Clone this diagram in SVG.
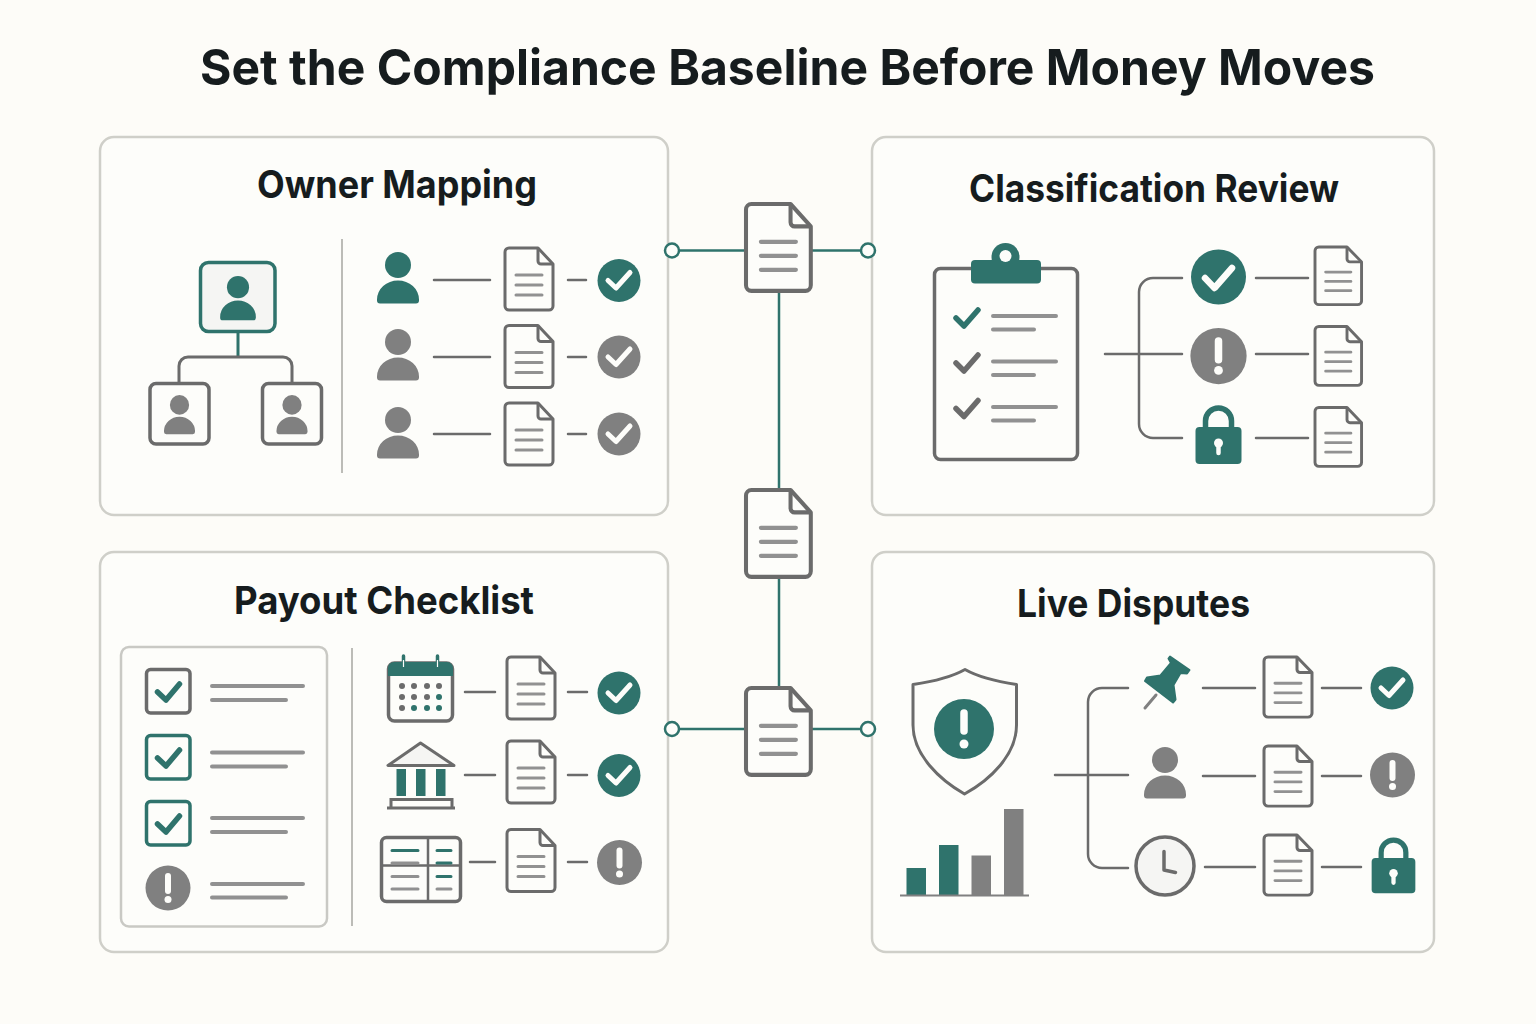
<svg xmlns="http://www.w3.org/2000/svg" xmlns:xlink="http://www.w3.org/1999/xlink" width="1536" height="1024" viewBox="0 0 1536 1024">
<style>
text{font-family:Inter,"Liberation Sans",sans-serif;font-weight:700;fill:#161c1e;text-anchor:start}
.title{font-size:50px}
.h{font-size:38px}
.panel{fill:#fdfdfa;stroke:#cfcfc9;stroke-width:2.5}
.c{fill:none;stroke:#6b6b6b;stroke-width:2.5;stroke-linecap:round}
.t{fill:none;stroke:#2f736c;stroke-width:2.5}
.ln{fill:none;stroke:#919191;stroke-width:4;stroke-linecap:round}
.box{fill:#fdfdfa;stroke:#6b6b6b;stroke-width:3.5}
.boxt{fill:#fdfdfa;stroke:#2f736c;stroke-width:3.5}
.tf{fill:#2f736c}
.gf{fill:#808080}
.wht{fill:none;stroke:#fdfdfa;stroke-width:5;stroke-linecap:round;stroke-linejoin:round}
.tick{fill:none;stroke-width:5.5;stroke-linecap:round;stroke-linejoin:round}
.sq{stroke:#2f736c}
.sg{stroke:#6b6b6b}
.dot{fill:#6b6b6b}
</style>
<defs>
<g id="doc">
<path d="M4 0H33L48 16V58a4 4 0 0 1-4 4H4a4 4 0 0 1-4-4V4a4 4 0 0 1 4-4Z" fill="#fdfdfa" stroke="#6b6b6b" stroke-width="3" stroke-linejoin="round"/>
<path d="M33 0V13a3 3 0 0 0 3 3H48" fill="none" stroke="#6b6b6b" stroke-width="3"/>
<path d="M11 27H37M11 37H37M11 47H37" fill="none" stroke="#919191" stroke-width="3" stroke-linecap="round"/>
</g>
<g id="person"><circle cx="0" cy="13" r="13"/><path d="M-21 47.500a21 19 0 0 1 42 0v1a3 3 0 0 1-3 3H-18a3 3 0 0 1-3-3Z"/></g>
<g id="ok"><circle r="21.500" class="tf"/><path d="M-11 0L-3 7.500L11-8" class="wht"/></g>
<g id="okg"><circle r="21.500" class="gf"/><path d="M-11 0L-3 7.500L11-8" class="wht"/></g>
<g id="warn"><circle r="22.500" class="gf"/><path d="M0-12V3" fill="none" stroke="#fdfdfa" stroke-width="6" stroke-linecap="round"/><circle cy="11.500" r="3.500" fill="#fdfdfa"/></g>
<g id="lock"><path d="M-13 0V-8a13 13 0 0 1 26 0V0" fill="none" stroke="#2f736c" stroke-width="5.500"/><rect x="-23" y="-2" width="46" height="37" rx="4" class="tf"/><circle cy="14" r="4.500" fill="#fdfdfa"/><path d="M0 14V24" stroke="#fdfdfa" stroke-width="4.500" stroke-linecap="round"/></g>
</defs>

<rect width="1536" height="1024" fill="#fdfcf8"/>
<text class="title" x="200" y="85" textLength="1175" lengthAdjust="spacingAndGlyphs">Set the Compliance Baseline Before Money Moves</text>

<g id="panels">
<rect class="panel" x="100" y="137" width="568" height="378" rx="14"/>
<rect class="panel" x="872" y="137" width="562" height="378" rx="14"/>
<rect class="panel" x="100" y="552" width="568" height="400" rx="14"/>
<rect class="panel" x="872" y="552" width="562" height="400" rx="14"/>
</g>

<g id="connectors">
<path class="t" d="M672 250.500H868M779 291V688M672 729H868"/>
<circle cx="672" cy="250.500" r="7" fill="#fdfdfa" stroke="#2f736c" stroke-width="2.500"/>
<circle cx="868" cy="250.500" r="7" fill="#fdfdfa" stroke="#2f736c" stroke-width="2.500"/>
<circle cx="672" cy="729" r="7" fill="#fdfdfa" stroke="#2f736c" stroke-width="2.500"/>
<circle cx="868" cy="729" r="7" fill="#fdfdfa" stroke="#2f736c" stroke-width="2.500"/>
<path d="M238 332V357" fill="none" stroke="#2f736c" stroke-width="3"/>
<path d="M179 383V366a9 9 0 0 1 9-9H283a9 9 0 0 1 9 9V383" fill="none" stroke="#6b6b6b" stroke-width="3"/>
<path class="c" d="M434 280H490M434 357H490M434 434H490M568 280H586M568 357H586M568 434H586"/>
<path class="c" d="M1105 354H1182M1182 278H1153a14 14 0 0 0-14 14V424a14 14 0 0 0 14 14H1182" stroke-width="3"/>
<path class="c" d="M1256 278H1308M1256 354H1308M1256 438H1308"/>
<path class="c" d="M465 692H495M465 775H495M470 862H495M568 692H587M568 775H587M568 862H587"/>
<path class="c" d="M1055 775H1128M1128 688H1102a14 14 0 0 0-14 14V854a14 14 0 0 0 14 14H1128" stroke-width="3"/>
<path class="c" d="M1203 688H1255M1203 776H1255M1205 867H1255M1322 688H1361M1322 776H1361M1322 867H1361"/>
</g>

<g id="doc-top"><use href="#doc" transform="translate(746 204) scale(1.35 1.40)"/></g>
<g id="doc-middle"><use href="#doc" transform="translate(746 490) scale(1.35 1.40)"/></g>
<g id="doc-bottom"><use href="#doc" transform="translate(746 688) scale(1.35 1.40)"/></g>

<g id="owner-mapping">
<text class="h" x="257" y="198" textLength="280" lengthAdjust="spacingAndGlyphs">Owner Mapping</text>
<rect x="200.500" y="262.500" width="74.500" height="69" rx="8" fill="#f5f5f3" stroke="#2f736c" stroke-width="3.500"/>
<use href="#person" class="tf" transform="translate(238 276) scale(.85 .86)"/>
<rect class="box" x="150" y="383.500" width="59" height="60.500" rx="6"/>
<use href="#person" class="gf" transform="translate(179.500 395) scale(.74 .76)"/>
<rect class="box" x="262.500" y="383.500" width="59" height="60.500" rx="6"/>
<use href="#person" class="gf" transform="translate(292 395) scale(.74 .76)"/>
<path d="M342 239V473" stroke="#bcbcb7" stroke-width="2"/>
<use href="#person" class="tf" transform="translate(398 252)"/>
<use href="#person" class="gf" transform="translate(398 329)"/>
<use href="#person" class="gf" transform="translate(398 407)"/>
<use href="#doc" transform="translate(505 248)"/>
<use href="#doc" transform="translate(505 325.500)"/>
<use href="#doc" transform="translate(505 403)"/>
<use href="#ok" transform="translate(619 280.500)"/>
<use href="#okg" transform="translate(619 357)"/>
<use href="#okg" transform="translate(619 434)"/>
</g>

<g id="classification-review">
<text class="h" x="969" y="202" textLength="370" lengthAdjust="spacingAndGlyphs">Classification Review</text>
<rect class="box" x="934.500" y="268.500" width="143" height="191" rx="6"/>
<circle cx="1005.500" cy="257" r="14" class="tf"/>
<rect x="971" y="260" width="70" height="23.500" rx="4" class="tf"/>
<circle cx="1005.500" cy="256" r="6" fill="#fdfdfa"/>
<path class="tick sq" d="M956 318L964 326L978 310"/>
<path class="tick sg" d="M956 363L964 371L978 355"/>
<path class="tick sg" d="M956 408.500L964 416.500L978 400.500"/>
<path class="ln" d="M993 316H1056M993 329.500H1034M993 361.500H1056M993 375H1034M993 407H1056M993 420.500H1034"/>
<circle cx="1218.500" cy="277" r="27.500" class="tf"/>
<path d="M1205 278L1214.500 288L1232 268" fill="none" stroke="#fdfdfa" stroke-width="6.500" stroke-linecap="round" stroke-linejoin="round"/>
<use href="#warn" transform="translate(1218.500 356) scale(1.25)"/>
<use href="#lock" transform="translate(1218.500 429) scale(1 1)"/>
<use href="#doc" transform="translate(1315 247) scale(.97 .93)"/>
<use href="#doc" transform="translate(1315 326.500) scale(.97 .95)"/>
<use href="#doc" transform="translate(1315 407.500) scale(.97 .95)"/>
</g>

<g id="payout-checklist">
<text class="h" x="234" y="614" textLength="300" lengthAdjust="spacingAndGlyphs">Payout Checklist</text>
<rect x="121" y="647" width="206" height="279.500" rx="8" fill="#fdfdfa" stroke="#c9c9c4" stroke-width="2.500"/>
<rect class="box" x="146.500" y="669.500" width="43.500" height="43.500" rx="4" stroke-width="3"/>
<rect class="boxt" x="146.500" y="735.500" width="43.500" height="43.500" rx="4" stroke-width="3"/>
<rect class="boxt" x="146.500" y="801.500" width="43.500" height="43.500" rx="4" stroke-width="3"/>
<path class="tick sq" d="M157.500 692L166 700L179.500 684"/>
<path class="tick sq" d="M157.500 758L166 766L179.500 750"/>
<path class="tick sq" d="M157.500 824L166 832L179.500 816"/>
<use href="#warn" transform="translate(168 888)"/>
<path class="ln" d="M212 686H303M212 700H286M212 752.500H303M212 766.500H286M212 818H303M212 832H286M212 884H303M212 897.500H286"/>
<path d="M352 648V926" stroke="#bcbcb7" stroke-width="2"/>
<rect class="box" x="388.500" y="663" width="64" height="58" rx="6"/>
<path class="tf" d="M388 676V668a6 6 0 0 1 6-6H447a6 6 0 0 1 6 6V676Z"/>
<path d="M403.500 656V669M437.500 656V669" stroke="#2f736c" stroke-width="3.500" stroke-linecap="round"/>
<path d="M403.500 660V667M437.500 660V667" stroke="#fdfdfa" stroke-width="1.200"/>
<g class="dot">
<circle cx="402" cy="686" r="3"/><circle cx="414" cy="686" r="3"/><circle cx="427" cy="686" r="3"/><circle cx="439" cy="686" r="3"/>
<circle cx="402" cy="697" r="3"/><circle cx="414" cy="697" r="3"/><circle cx="427" cy="697" r="3"/><circle cx="439" cy="697" r="3" class="tf"/>
<circle cx="402" cy="708" r="3"/><circle cx="414" cy="708" r="3" class="tf"/><circle cx="427" cy="708" r="3" class="tf"/><circle cx="439" cy="708" r="3" class="tf"/>
</g>
<path d="M420.500 743L388 765.500H454Z" fill="#f5f5f3" stroke="#6b6b6b" stroke-width="3" stroke-linejoin="round"/>
<rect x="396.500" y="769" width="9.500" height="27" class="tf"/>
<rect x="416" y="769" width="9.500" height="27" class="tf"/>
<rect x="436" y="769" width="9.500" height="27" class="tf"/>
<path d="M391 807V799.500H452V807M387 808H455" fill="none" stroke="#6b6b6b" stroke-width="3"/>
<rect class="box" x="381.500" y="837.500" width="79" height="64" rx="5"/>
<path d="M428 838V901M382 865.500H460" stroke="#6b6b6b" stroke-width="2.500"/>
<path d="M392 850.500H418M437 850.500H451M437 863H451M437 876.500H451" stroke="#2f736c" stroke-width="3" stroke-linecap="round"/>
<path d="M392 863H418M392 876.500H418M392 889H418M437 889H451" stroke="#919191" stroke-width="3" stroke-linecap="round"/>
<use href="#doc" transform="translate(507 657)"/>
<use href="#doc" transform="translate(507 741)"/>
<use href="#doc" transform="translate(507 829.500)"/>
<use href="#ok" transform="translate(619 693)"/>
<use href="#ok" transform="translate(619 775.500)"/>
<use href="#warn" transform="translate(619.500 862.500)"/>
</g>

<g id="live-disputes">
<text class="h" x="1017" y="617" textLength="233" lengthAdjust="spacingAndGlyphs">Live Disputes</text>
<path d="M965 669.500C950 678 930 682 913 684.500V725C913 755 940 780 964.500 794C990 780 1016.500 755 1016.500 725V684.500C1000 682 980 678 965 669.500Z" fill="#fdfdfa" stroke="#6b6b6b" stroke-width="3" stroke-linejoin="round"/>
<circle cx="964" cy="729" r="30" class="tf"/>
<path d="M964 713V731" fill="none" stroke="#fdfdfa" stroke-width="7.500" stroke-linecap="round"/>
<circle cx="964" cy="744" r="4.500" fill="#fdfdfa"/>
<rect x="906.500" y="868" width="19.500" height="27" class="tf"/>
<rect x="939" y="845" width="19.500" height="50" class="tf"/>
<rect x="971.500" y="855.500" width="19.500" height="39.500" class="gf"/>
<rect x="1004" y="809" width="19.500" height="86" class="gf"/>
<path d="M900 895.500H1029" stroke="#808080" stroke-width="1.800"/>
<path d="M1170 656.500L1189.500 670L1187 673.500L1180.500 673L1173.500 685L1175.500 699.500L1173 702.500L1145 681L1147 677.500L1160.500 675.500L1171 663L1168.500 658.500Z" class="tf" stroke="#2f736c" stroke-width="2" stroke-linejoin="round"/>
<path d="M1156 695L1145 708" stroke="#808080" stroke-width="3" stroke-linecap="round"/>
<use href="#person" class="gf" transform="translate(1165 747)"/>
<circle cx="1165" cy="866" r="29" fill="#f5f5f3" stroke="#6b6b6b" stroke-width="3.500"/>
<path d="M1164 851.500V870L1175.500 872.500" fill="none" stroke="#6b6b6b" stroke-width="3.500" stroke-linecap="round" stroke-linejoin="round"/>
<use href="#doc" transform="translate(1264 657) scale(1 .97)"/>
<use href="#doc" transform="translate(1264 746) scale(1 .97)"/>
<use href="#doc" transform="translate(1264 835) scale(1 .97)"/>
<use href="#ok" transform="translate(1392 688)"/>
<use href="#warn" transform="translate(1392.500 775)"/>
<use href="#lock" transform="translate(1393.500 860) scale(.95)"/>
</g>
</svg>
